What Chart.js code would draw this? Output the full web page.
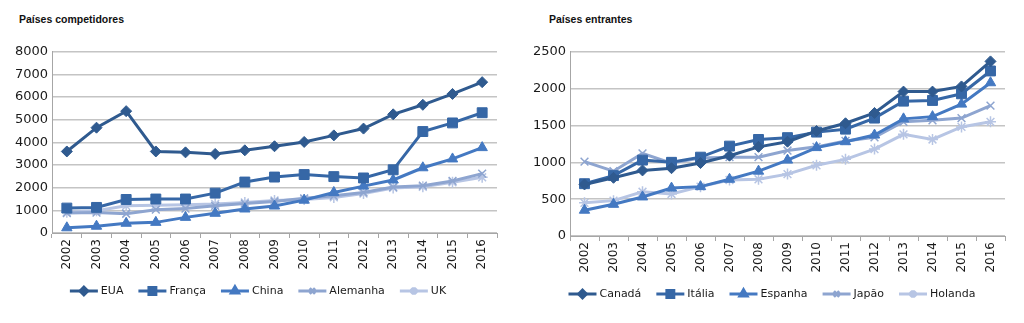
<!DOCTYPE html>
<html>
<head>
<meta charset="utf-8">
<script src="https://cdn.jsdelivr.net/npm/chart.js@4/dist/chart.umd.min.js"></script>
<style>
  html, body { margin: 0; padding: 0; background: #fff; }
  body { position: relative; width: 1024px; height: 323px; overflow: hidden; }
  .title {
    position: absolute;
    top: 13px;
    font: bold 10.5px "Liberation Sans", Arial, sans-serif;
    color: #111;
  }
  .frame { position: absolute; top: 40px; width: 512px; height: 283px; }
</style>
</head>
<body>
<div class="title" style="left:19px">Países competidores</div>
<div class="title" style="left:549px">Países entrantes</div>
<div class="frame" style="left:0"><canvas id="left"></canvas></div>
<div class="frame" style="left:512px"><canvas id="right"></canvas></div>
<script>
const years = ["2002", "2003", "2004", "2005", "2006", "2007", "2008", "2009", "2010", "2011", "2012", "2013", "2014", "2015", "2016"];

// Países competidores
const eua = [3600, 4650, 5380, 3600, 3560, 3490, 3650, 3830, 4020, 4310, 4610, 5240, 5660, 6140, 6660];
const franca = [1100, 1130, 1480, 1500, 1500, 1760, 2250, 2470, 2580, 2490, 2430, 2790, 4480, 4860, 5310];
const china = [230, 300, 430, 470, 690, 870, 1060, 1190, 1450, 1790, 2070, 2340, 2880, 3270, 3770];
const alemanha = [880, 900, 850, 1030, 1080, 1200, 1300, 1390, 1530, 1640, 1790, 2030, 2090, 2300, 2620];
const uk = [920, 980, 1200, 1230, 1250, 1280, 1350, 1440, 1480, 1570, 1740, 1990, 2040, 2240, 2460];
const leftTicksMax = 8000;
const leftTicksStep = 1000;

// Países entrantes
const canada = [700, 790, 890, 920, 990, 1090, 1210, 1280, 1425, 1530, 1670, 1960, 1960, 2030, 2370];
const italia = [710, 820, 1030, 1000, 1070, 1220, 1310, 1335, 1410, 1450, 1600, 1830, 1840, 1930, 2240];
const espanha = [350, 430, 530, 650, 670, 770, 880, 1030, 1200, 1280, 1370, 1590, 1620, 1790, 2080];
const japao = [1010, 880, 1120, 990, 1060, 1070, 1070, 1160, 1210, 1290, 1340, 1550, 1570, 1600, 1770];
const holanda = [450, 480, 600, 570, 670, 760, 770, 840, 960, 1040, 1180, 1380, 1310, 1480, 1550];
const rightTicksMax = 2500;
const rightTicksStep = 500;

const shades = ["#2f5a8f", "#3667a6", "#4479c2", "#8ea5d0", "#b7c5e4"];
const markers = [
  { style: "rectRot", radius: 5.5 },
  { style: "rect", radius: 7 },
  { style: "triangle", radius: 6 },
  { style: "crossRot", radius: 5.5 },
  { style: "star", radius: 5.5 },
];

const tickFont = { family: "DejaVu Sans", size: 13 };
const yearFont = { family: "DejaVu Sans", size: 12 };

function dataset(label, data, index) {

  const color = shades[index];
  const marker = markers[index];
  return {
    label,
    data,
    borderColor: color,
    backgroundColor: color,
    borderWidth: 3,
    pointStyle: marker.style,
    pointRadius: marker.radius,
    pointHoverRadius: marker.radius,
    pointBackgroundColor: color,
    pointBorderColor: color,
    pointBorderWidth: marker.style === "crossRot" || marker.style === "star" ? 1.5 : 1,
    tension: 0,
  };
}

// legend drawn like the office one: a short line with the marker in the middle
const lineLegend = {
  id: "lineLegend",
  afterDraw(chart, args, opts) {

    const ctx = chart.ctx;
    ctx.save();
    ctx.font = "11px 'DejaVu Sans'";
    ctx.textBaseline = "middle";
    const lineLen = 28, gap = 3, spacing = 15;
    const items = chart.data.datasets.map(ds => ({ ds, w: ctx.measureText(ds.label).width }));
    const total = items.reduce((s, it) => s + lineLen + gap + it.w, 0) + spacing * (items.length - 1);
    let x = chart.width / 2 - total / 2 + (opts.shift || 0);
    const y = opts.y;
    items.forEach(({ ds, w }) => {
      ctx.strokeStyle = ds.borderColor;
      ctx.lineWidth = 3;
      ctx.beginPath();
      ctx.moveTo(x, y);
      ctx.lineTo(x + lineLen, y);
      ctx.stroke();
      ctx.fillStyle = ds.borderColor;
      Chart.helpers.drawPoint(ctx, {
        pointStyle: ds.pointStyle,
        radius: ds.pointRadius * 0.7,
        rotation: 0,
        borderWidth: 1,
      }, x + lineLen / 2, y);
      ctx.fillStyle = "#1a1a1a";
      ctx.fillText(ds.label, x + lineLen + gap, y + 0.5);
      x += lineLen + gap + w + spacing;
    });
    ctx.restore();
  },
};

function makeChart(id, datasets, yMax, yStep, axisWidth, axisHeight, padRight, legendY, shift) {

  return new Chart(document.getElementById(id), {
    type: "line",
    data: { labels: years, datasets },
    options: {
      responsive: true,
      maintainAspectRatio: false,
      animation: false,
      events: [],
      layout: { padding: { top: 10, right: padRight, left: 0, bottom: 0 } },
      plugins: {
        legend: { display: false },
        tooltip: { enabled: false },
        lineLegend: { y: legendY, shift },
      },
      scales: {
        x: {
          offset: true,
          grid: {
            offset: true,
            drawOnChartArea: false,
            drawTicks: true,
            tickLength: 5,
            color: "#a6a6a6",
          },
          border: { display: true, color: "#a6a6a6", width: 1 },
          ticks: {
            font: yearFont,
            color: "#1a1a1a",
            minRotation: 90,
            maxRotation: 90,
            padding: 1,
            autoSkip: false,
          },
          afterFit: scale => { scale.height = axisHeight; },
        },
        y: {
          min: 0,
          max: yMax,
          grid: { color: "#c4c4c4", lineWidth: 1.5, drawTicks: false },
          border: { display: true, color: "#a6a6a6", width: 1 },
          ticks: {
            stepSize: yStep,
            font: tickFont,
            color: "#1a1a1a",
            padding: 4,
            callback: value => String(value),
          },
          afterFit: scale => { scale.width = axisWidth; },
        },
      },
    },
    plugins: [lineLegend],
  });
}

makeChart("left", [
  dataset("EUA", eua, 0),
  dataset("França", franca, 1),
  dataset("China", china, 2),
  dataset("Alemanha", alemanha, 3),
  dataset("UK", uk, 4),
], leftTicksMax, leftTicksStep, 52, 90, 15, 251, 2);

makeChart("right", [
  dataset("Canadá", canada, 0),
  dataset("Itália", italia, 1),
  dataset("Espanha", espanha, 2),
  dataset("Japão", japao, 3),
  dataset("Holanda", holanda, 4),
], rightTicksMax, rightTicksStep, 58, 87, 19, 254, 4);
</script>
</body>
</html>
